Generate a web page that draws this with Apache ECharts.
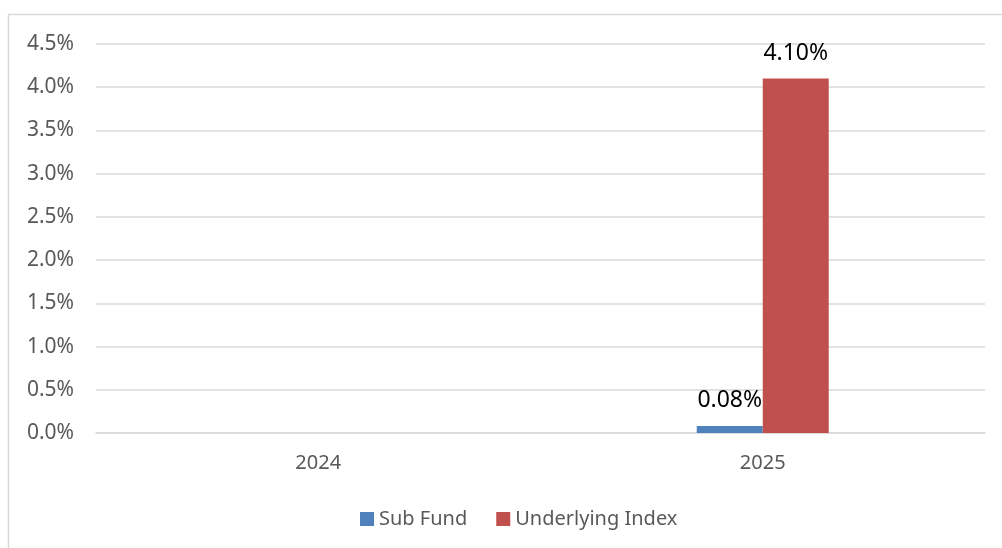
<!DOCTYPE html>
<html>
<head>
<meta charset="utf-8">
<script src="https://cdn.jsdelivr.net/npm/echarts@6/dist/echarts.min.js"></script>
<style>
  html, body { margin: 0; padding: 0; background: #fff; }
  #chart { width: 1002px; height: 548px; }
</style>
</head>
<body>
<div id="chart"></div>
<script>
const years = ['2024', '2025'];
const subFund = [null, 0.08];
const underlyingIndex = [null, 4.10];
const seriesNames = ['Sub Fund', 'Underlying Index'];

const chart = echarts.init(document.getElementById('chart'));
const font = '"Noto Sans", sans-serif';

const barLabel = {
    show: true,
    position: 'top',
    distance: 14,
    color: '#000',
    fontSize: 23,
    fontFamily: font,
    formatter: p => p.value == null ? '' : p.value.toFixed(2) + '%'
};

chart.setOption({
    animation: false,
    graphic: [{
        type: 'rect',
        shape: { x: 8.5, y: 14.5, width: 1000, height: 540 },
        style: { fill: 'none', stroke: '#d9d9d9', lineWidth: 1.5 },
        silent: true
    }],
    grid: { left: 96, right: 17, top: 44, bottom: 115 },
    legend: {
        left: 355,
        top: 504,
        itemWidth: 14,
        itemHeight: 14,
        itemGap: 29,
        icon: 'rect',
        textStyle: { color: '#595959', fontSize: 20, fontFamily: font },
        data: seriesNames
    },
    xAxis: {
        type: 'category',
        data: years,
        axisTick: { show: false },
        axisLine: { lineStyle: { color: '#d9d9d9', width: 1.5 } },
        axisLabel: { color: '#595959', fontSize: 20, fontFamily: font, margin: 20 }
    },
    yAxis: {
        type: 'value',
        min: 0,
        max: 4.5,
        interval: 0.5,
        axisLine: { show: false },
        axisTick: { show: false },
        splitLine: { lineStyle: { color: '#d9d9d9', width: 1.5 } },
        axisLabel: {
            color: '#595959', fontSize: 21, fontFamily: font, margin: 22,
            formatter: v => v.toFixed(1) + '%'
        }
    },
    series: [
        {
            name: seriesNames[0],
            type: 'bar',
            data: subFund,
            barWidth: 66,
            barGap: '0%',
            itemStyle: { color: '#4F81BD' },
            label: barLabel
        },
        {
            name: seriesNames[1],
            type: 'bar',
            data: underlyingIndex,
            barWidth: 66,
            itemStyle: { color: '#C0504D' },
            label: barLabel
        }
    ]
});
</script>
</body>
</html>
